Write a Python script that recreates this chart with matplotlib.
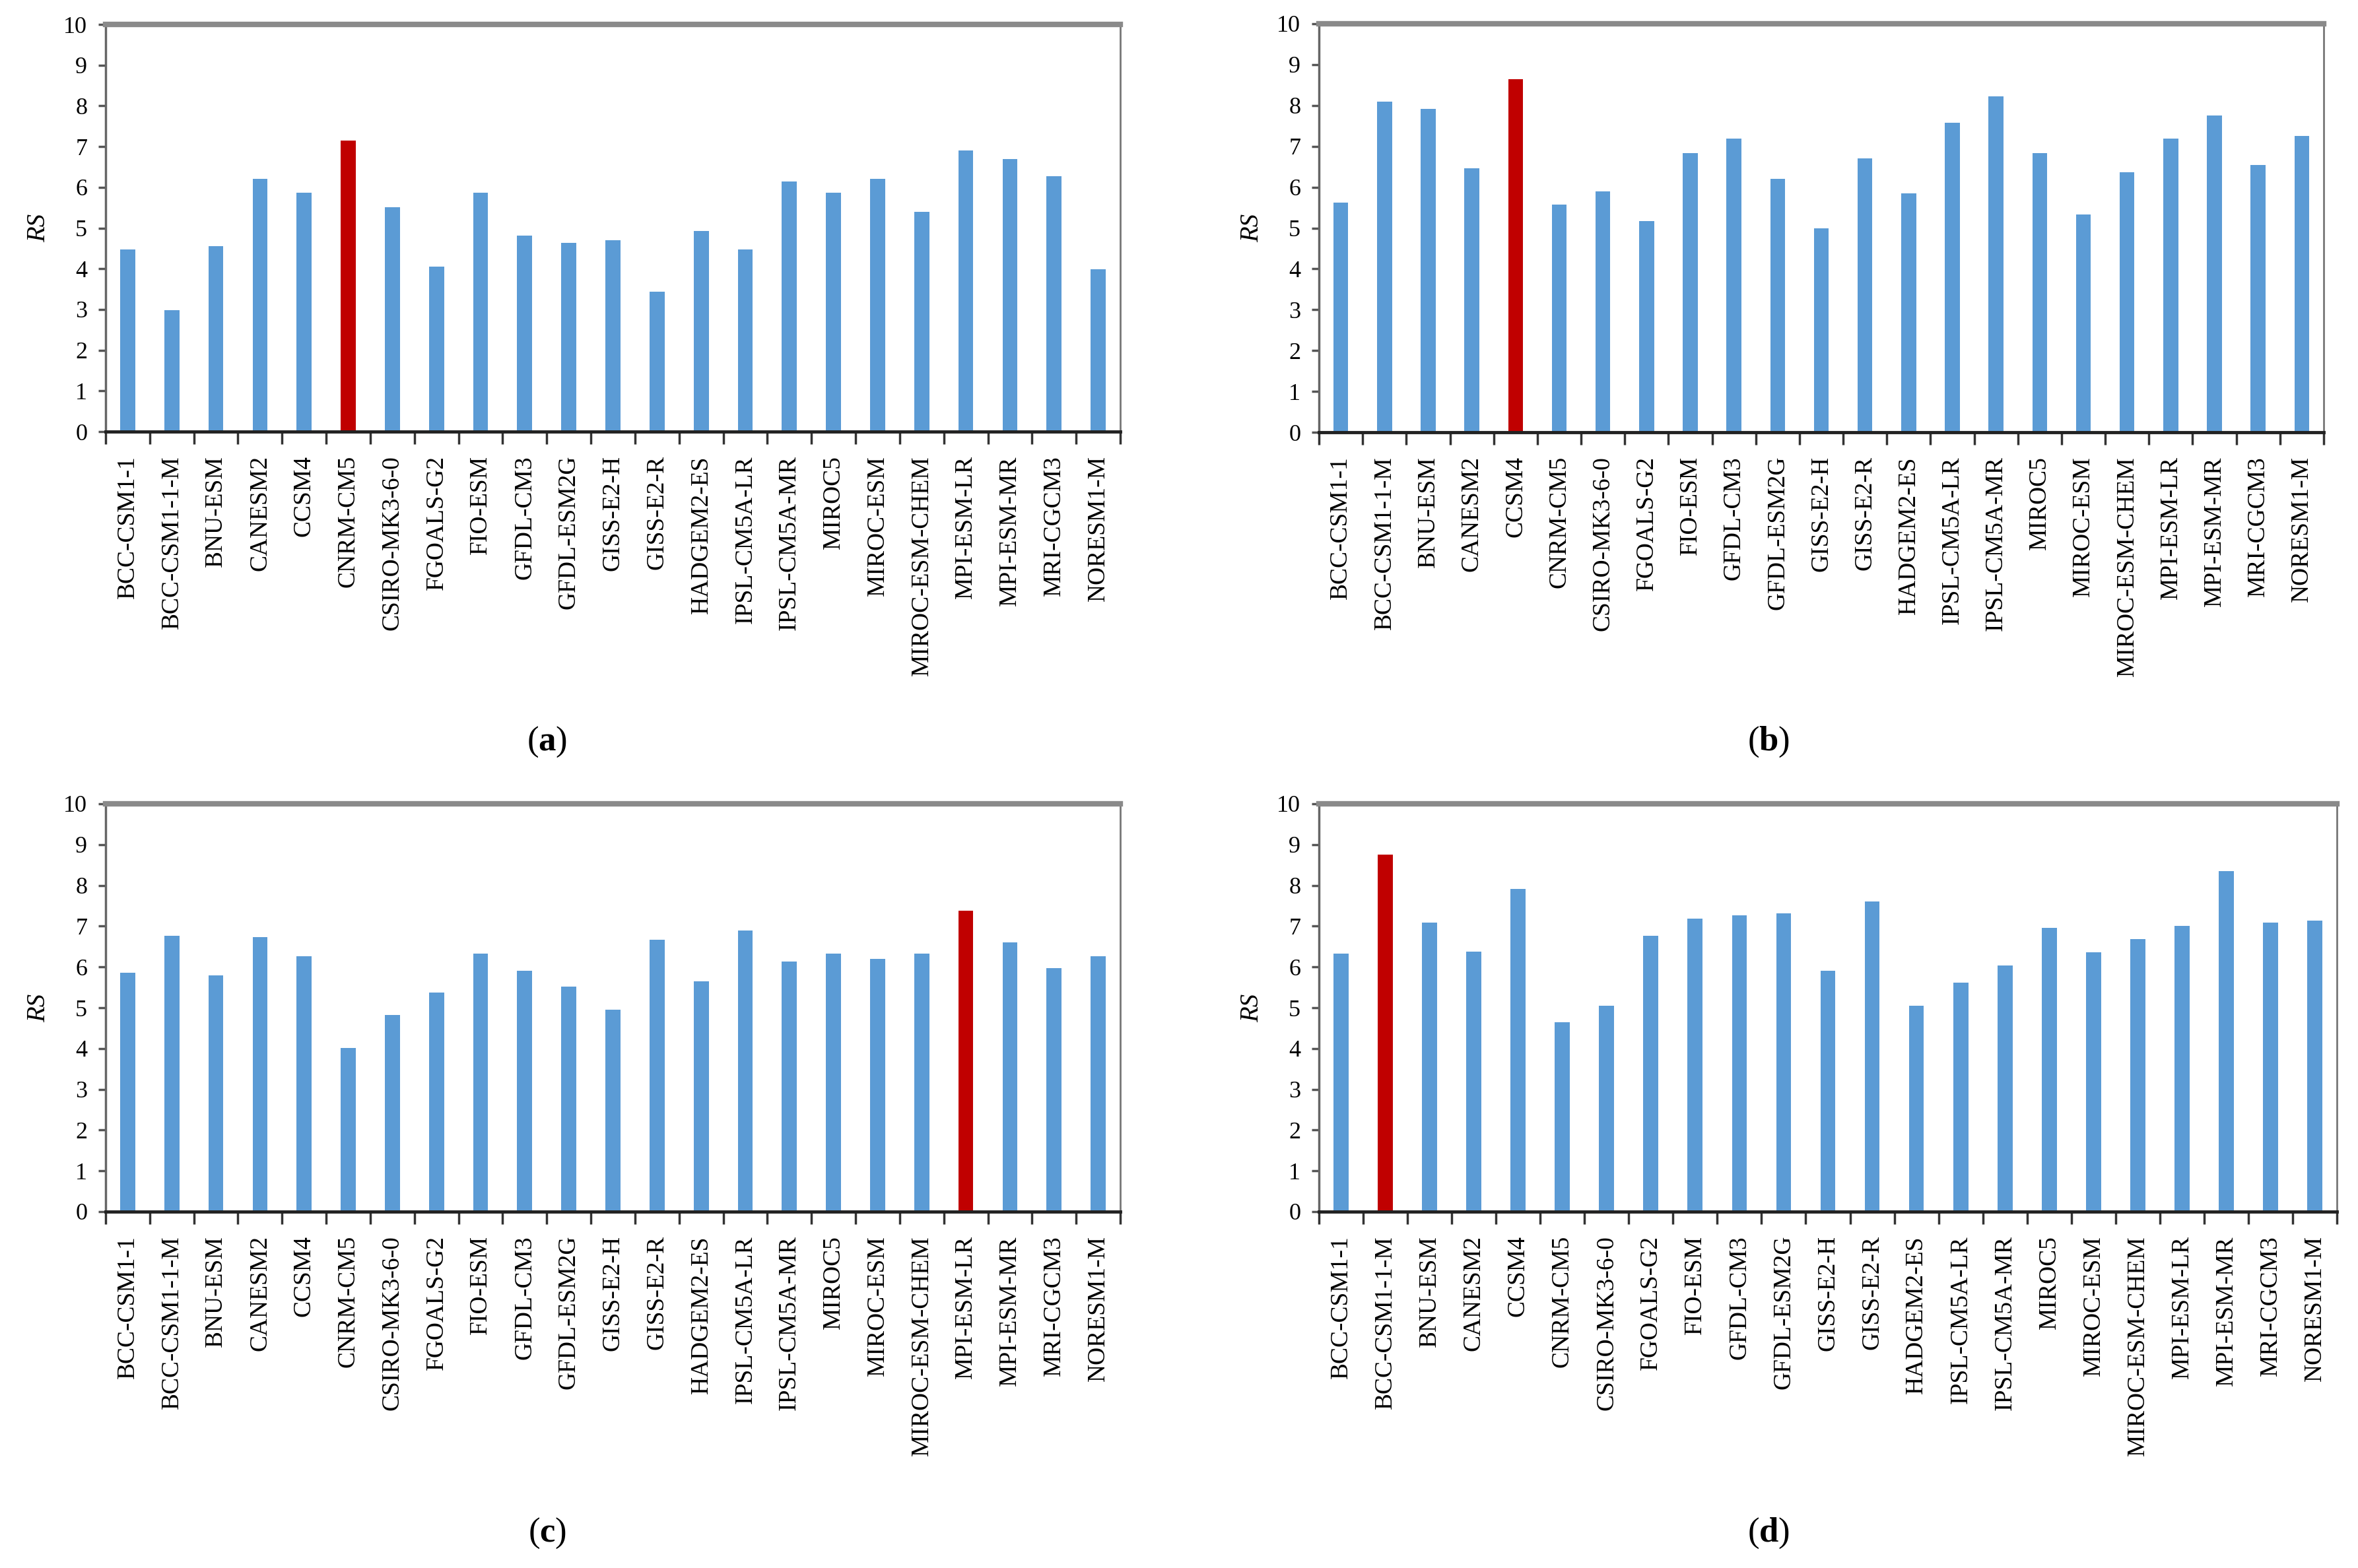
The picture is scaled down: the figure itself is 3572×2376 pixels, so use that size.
import matplotlib.pyplot as plt
import numpy as np

plt.rcParams["mathtext.fontset"] = "custom"
plt.rcParams["mathtext.rm"] = "Liberation Serif"
plt.rcParams["mathtext.bf"] = "Liberation Serif:bold"

models = ["BCC-CSM1-1", "BCC-CSM1-1-M", "BNU-ESM", "CANESM2", "CCSM4", "CNRM-CM5",
          "CSIRO-MK3-6-0", "FGOALS-G2", "FIO-ESM", "GFDL-CM3", "GFDL-ESM2G", "GISS-E2-H",
          "GISS-E2-R", "HADGEM2-ES", "IPSL-CM5A-LR", "IPSL-CM5A-MR", "MIROC5", "MIROC-ESM",
          "MIROC-ESM-CHEM", "MPI-ESM-LR", "MPI-ESM-MR", "MRI-CGCM3", "NORESM1-M"]

rs_a = [4.48, 2.99, 4.56, 6.20, 5.86, 7.14, 5.51, 4.05, 5.86, 4.81, 4.63, 4.70,
        3.43, 4.93, 4.48, 6.15, 5.86, 6.20, 5.39, 6.91, 6.69, 6.28, 3.98]
rs_b = [5.63, 8.09, 7.91, 6.47, 8.64, 5.57, 5.90, 5.17, 6.84, 7.19, 6.21, 4.99,
        6.71, 5.85, 7.58, 8.23, 6.83, 5.33, 6.37, 7.19, 7.75, 6.54, 7.25]
rs_c = [5.86, 6.77, 5.79, 6.73, 6.26, 4.02, 4.82, 5.38, 6.32, 5.91, 5.52, 4.95,
        6.67, 5.65, 6.90, 6.14, 6.32, 6.19, 6.32, 7.38, 6.60, 5.97, 6.26]
rs_d = [6.33, 8.75, 7.08, 6.37, 7.91, 4.64, 5.05, 6.77, 7.18, 7.26, 7.32, 5.90,
        7.60, 5.05, 5.61, 6.03, 6.95, 6.36, 6.68, 7.00, 8.35, 7.08, 7.13]

panels = ["a", "b", "c", "d"]
best = ["CNRM-CM5", "CCSM4", "MPI-ESM-LR", "BCC-CSM1-1-M"]

W, H = 3572, 2376
# axes boxes in pixels: left, right, top, bottom
boxes = [(160, 1697, 37, 654), (1998, 3520, 36, 655),
         (160, 1697, 1218, 1836), (1998, 3540, 1218, 1836)]
label_pos = [(829, 1124), (2679, 1124), (829, 2323), (2679, 2323)]

blue = "#5B9BD5"
red = "#C00000"

fig = plt.figure(figsize=(W / 100, H / 100), dpi=100)
x = np.arange(len(models))

for vals, name, hi, (l, r, t, b), (lx, ly) in zip([rs_a, rs_b, rs_c, rs_d], panels, best, boxes, label_pos):
    ax = fig.add_axes([l / W, 1 - b / H, (r - l) / W, (b - t) / H])
    colors = [red if m == hi else blue for m in models]
    ax.bar(x, vals, width=0.34, color=colors, zorder=2)
    ax.set_xlim(-0.5, len(models) - 0.5)
    ax.set_ylim(0, 10)
    ax.set_yticks(range(0, 11))
    ax.set_xticks(x)
    ax.set_xticklabels(models, rotation=90, family="Liberation Serif", fontsize=27)
    ax.set_xticks(np.arange(-0.5, len(models)), minor=True)
    ax.tick_params(axis="x", which="major", length=0, pad=26)
    ax.tick_params(axis="x", which="minor", length=14, width=2.5, color="#333333", direction="out")
    ax.tick_params(axis="y", length=8, width=2.5, color="#555555", labelsize=26, pad=12)
    for lab in ax.get_yticklabels():
        lab.set_family("Liberation Serif")
    ax.spines["bottom"].set_color("#222222")
    ax.spines["bottom"].set_linewidth(3.5)
    ax.spines["top"].set_color("#8a8a8a")
    ax.spines["top"].set_linewidth(6)
    ax.spines["left"].set_color("#666666")
    ax.spines["left"].set_linewidth(2.5)
    ax.spines["right"].set_color("#777777")
    ax.spines["right"].set_linewidth(2)
    ax.set_ylabel("RS", fontsize=28, style="italic", family="Liberation Serif", labelpad=14)
    fig.text(lx / W, 1 - ly / H, "(" + r"$\mathbf{" + name + "}$" + ")", fontsize=38,
             family="Liberation Serif", ha="center", va="center")

fig.savefig("out.png", dpi=100)
